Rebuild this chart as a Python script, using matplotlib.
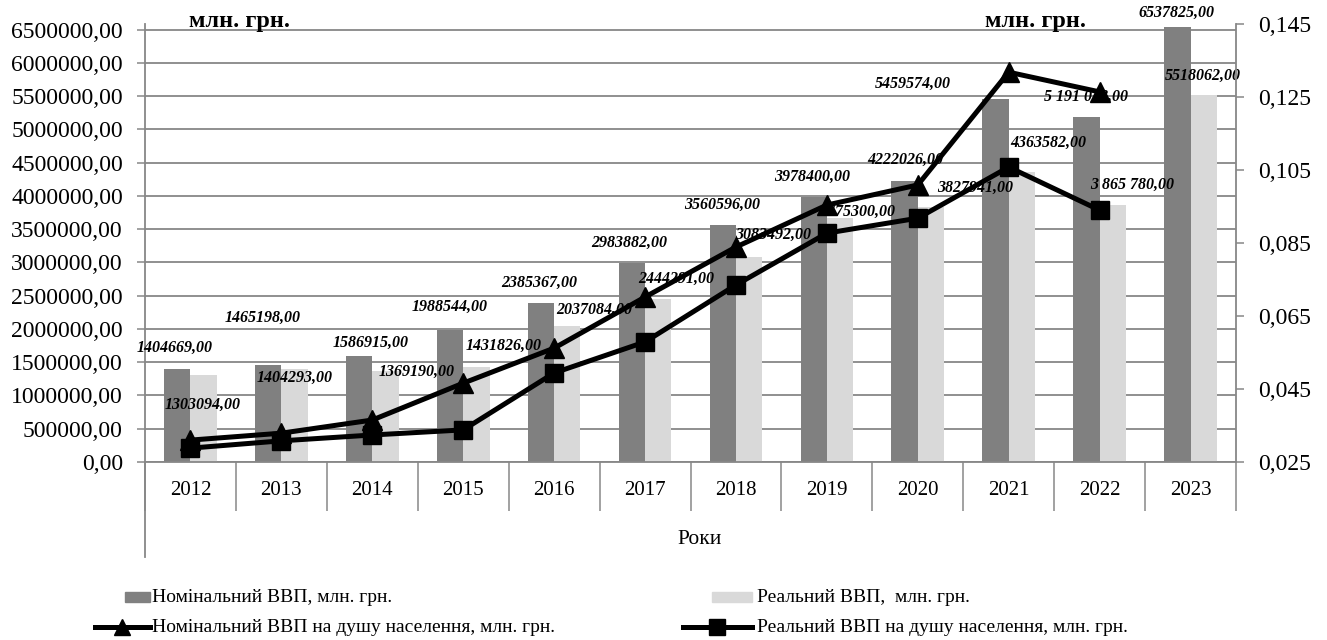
import matplotlib
matplotlib.use("Agg")
import matplotlib.pyplot as plt
import numpy as np
from matplotlib.lines import Line2D
from matplotlib.patches import Rectangle
from matplotlib.ticker import FixedLocator, FuncFormatter

# ---- data ---------------------------------------------------------------
years = ["2012", "2013", "2014", "2015", "2016", "2017",
         "2018", "2019", "2020", "2021", "2022", "2023"]

nominal_gdp = [1404669, 1465198, 1586915, 1988544, 2385367, 2983882,
               3560596, 3978400, 4222026, 5459574, 5191028, 6537825]
real_gdp = [1303094, 1404293, 1369190, 1431826, 2037084, 2444291,
            3083492, 3675300, 3827941, 4363582, 3865780, 5518062]

nominal_per_capita = [0.0310, 0.0329, 0.0365, 0.0466, 0.0562, 0.0702,
                      0.0839, 0.0954, 0.1009, 0.1318, 0.1264]
real_per_capita = [0.0288, 0.0308, 0.0324, 0.0338, 0.0494, 0.0579,
                   0.0735, 0.0877, 0.0918, 0.1058, 0.0940]

nominal_text = ["1404669,00", "1465198,00", "1586915,00", "1988544,00",
                "2385367,00", "2983882,00", "3560596,00", "3978400,00",
                "4222026,00", "5459574,00", "5 191 028,00", "6537825,00"]
real_text = ["1303094,00", "1404293,00", "1369190,00", "1431826,00",
             "2037084,00", "2444291,00", "3083492,00", "3675300,00",
             "3827941,00", "4363582,00", "3 865 780,00", "5518062,00"]

# hand-placed label anchors (category units, left-axis units)
nominal_text_x = [-0.17, 0.79, 1.98, 2.85, 3.84, 4.83, 5.85, 6.84, 7.86, 7.95, 9.85, 10.85]
nominal_text_y = [1.714e6, 2.17e6, 1.789e6, 2.33e6, 2.691e6, 3.292e6,
                  3.863e6, 4.284e6, 4.540e6, 5.682e6, 5.487e6, 6.749e6]
real_text_x = [0.13, 1.15, 2.49, 3.44, 4.44, 5.34, 6.41, 7.33, 8.63, 9.44, 10.36, 11.13]
real_text_y = [0.857e6, 1.263e6, 1.353e6, 1.744e6, 2.285e6, 2.751e6,
               3.412e6, 3.758e6, 4.119e6, 4.795e6, 4.164e6, 5.802e6]

legend_labels = ["Номінальний ВВП, млн. грн.",
                 "Реальний ВВП,  млн. грн.",
                 "Номінальний ВВП на душу населення, млн. грн.",
                 "Реальний ВВП на душу населення, млн. грн."]

# ---- style --------------------------------------------------------------
plt.rcParams['font.family'] = ['Liberation Serif', 'DejaVu Serif']
GRID = '#878787'
DARK = '#808080'
LIGHT = '#d9d9d9'

W, H = 1327, 640
fig = plt.figure(figsize=(W / 100, H / 100), dpi=100)
fig.patch.set_facecolor('white')


def fx(px):
    return px / W


def fy(py):
    return 1 - py / H


ax = fig.add_axes([fx(145), fy(462), (1236 - 145) / W, (462 - 24) / H])
x = np.arange(len(years))
bw = 0.29

ax.bar(x - bw / 2, nominal_gdp, width=bw, color=DARK, zorder=2)
ax.bar(x + bw / 2, real_gdp, width=bw, color=LIGHT, zorder=2)

ax.set_xlim(-0.5, len(years) - 0.5)
ax.set_ylim(0, 6584000)
ax.yaxis.set_major_locator(FixedLocator(np.arange(0, 6500001, 500000)))
ax.yaxis.set_major_formatter(FuncFormatter(lambda v, p: f"{v:.2f}".replace('.', ',')))
ax.yaxis.grid(True, color=GRID, lw=1.3, zorder=0)
ax.set_axisbelow(True)

ax.set_xticks(x)
ax.set_xticklabels(years, fontsize=15)
ax.set_xticks(np.arange(-0.5, len(years), 1.0), minor=True)
ax.tick_params(axis='x', which='major', length=0, pad=14)
ax.tick_params(axis='x', which='minor', length=35, width=1.1, color=GRID, direction='out')
ax.tick_params(axis='y', length=6, width=1.1, color=GRID, labelsize=17, pad=10)

for side in ('top', 'right'):
    ax.spines[side].set_visible(False)
for side in ('left', 'bottom'):
    ax.spines[side].set_color(GRID)
    ax.spines[side].set_linewidth(1.3)

for tx, ty, s in zip(nominal_text_x, nominal_text_y, nominal_text):
    ax.text(tx, ty, s, ha='center', va='center', fontsize=11.5,
            fontweight='bold', fontstyle='italic', zorder=3)
for tx, ty, s in zip(real_text_x, real_text_y, real_text):
    ax.text(tx, ty, s, ha='center', va='center', fontsize=11.5,
            fontweight='bold', fontstyle='italic', zorder=3)

# per-capita lines on the secondary axis
ax2 = ax.twinx()
ax2.set_ylim(0.025, 0.145)
ax2.yaxis.set_major_locator(FixedLocator(np.arange(0.025, 0.1451, 0.02)))
ax2.yaxis.set_major_formatter(FuncFormatter(lambda v, p: f"{v:.3f}".replace('.', ',')))
ax2.tick_params(axis='y', length=6, width=1.1, color=GRID, labelsize=17, pad=10)
for side in ('top', 'left', 'bottom'):
    ax2.spines[side].set_visible(False)
ax2.spines['right'].set_color(GRID)
ax2.spines['right'].set_linewidth(1.3)

xl = x[:len(nominal_per_capita)]
ax2.plot(xl, nominal_per_capita, color='black', lw=3.6, marker='^', ms=14, zorder=4)
ax2.plot(xl, real_per_capita, color='black', lw=3.6, marker='s', ms=13, zorder=4)

# extended left border under the category axis
fig.add_artist(Line2D([fx(145), fx(145)], [fy(557), fy(462)], color=GRID, lw=1.3))

fig.text(fx(700), fy(540), "Роки", ha='center', va='center', fontsize=15.5)
fig.text(fx(189), fy(21), "млн. грн.", ha='left', va='center', fontsize=17.5, fontweight='bold')
fig.text(fx(985), fy(21), "млн. грн.", ha='left', va='center', fontsize=17.5, fontweight='bold')

# legend
row1, row2 = 597, 627
fig.add_artist(Rectangle((fx(125), fy(row1 + 5)), fx(150) - fx(125), (10) / H,
                         color=DARK, transform=fig.transFigure))
fig.add_artist(Rectangle((fx(712), fy(row1 + 5)), fx(752) - fx(712), (10) / H,
                         color=LIGHT, transform=fig.transFigure))
fig.add_artist(Line2D([fx(95), fx(150)], [fy(row2), fy(row2)], color='black', lw=3.6))
fig.add_artist(Line2D([fx(122)], [fy(row2)], color='black', marker='^', ms=12))
fig.add_artist(Line2D([fx(683), fx(752)], [fy(row2), fy(row2)], color='black', lw=3.6))
fig.add_artist(Line2D([fx(717)], [fy(row2)], color='black', marker='s', ms=11))
fig.text(fx(152), fy(row1), legend_labels[0], va='center', fontsize=14)
fig.text(fx(757), fy(row1), legend_labels[1], va='center', fontsize=14)
fig.text(fx(152), fy(row2), legend_labels[2], va='center', fontsize=14)
fig.text(fx(757), fy(row2), legend_labels[3], va='center', fontsize=14)

fig.savefig("out.png", dpi=100)
